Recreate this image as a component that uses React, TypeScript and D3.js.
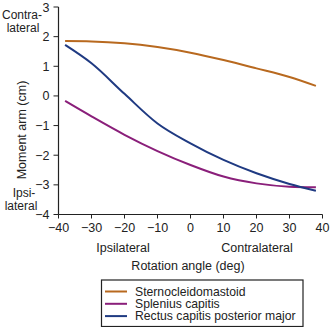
import React from "react";
import * as d3 from "d3";

const angles = [-38, -30, -20, -10, 0, 10, 20, 30, 38];
const sternocleidomastoid = [1.85, 1.84, 1.78, 1.65, 1.46, 1.21, 0.93, 0.64, 0.34];
const spleniusCapitis = [-0.17, -0.69, -1.31, -1.86, -2.33, -2.72, -2.95, -3.06, -3.08];
const rectusCapitis = [1.72, 1.1, 0.07, -0.93, -1.6, -2.16, -2.61, -2.97, -3.2];

const xTicks = [-40, -30, -20, -10, 0, 10, 20, 30, 40];
const yTicks = [3, 2, 1, 0, -1, -2, -3, -4];

const seriesNames = ["Sternocleidomastoid", "Splenius capitis", "Rectus capitis posterior major"];
const seriesColors = ["#b8691f", "#8a1f7a", "#1f3a82"];

export default function App() {
  const x = d3.scaleLinear().domain([-40, 40]).range([58.5, 322.5]);
  const y = d3.scaleLinear().domain([-4, 3]).range([214.5, 7]);
  const series = [sternocleidomastoid, spleniusCapitis, rectusCapitis];
  const line = d3
    .line<[number, number]>()
    .x((d) => x(d[0]))
    .y((d) => y(d[1]))
    .curve(d3.curveMonotoneX);
  const font = "'Liberation Sans', Arial, sans-serif";
  const fs = 12.5;
  const fmt = (t: number) => (t < 0 ? "\u2212" + Math.abs(t) : String(t));

  return (
    <svg
      width={330}
      height={327}
      style={{ position: "absolute", left: 0, top: 0, background: "#fff" }}
      fontFamily={font}
    >
      <rect x={0} y={0} width={330} height={327} fill="#fff" />
      {series.map((vals, i) => (
        <path
          key={i}
          d={line(angles.map((a, j) => [a, vals[j]] as [number, number])) || ""}
          fill="none"
          stroke={seriesColors[i]}
          strokeWidth={2}
        />
      ))}
      {/* axes */}
      <line x1={x(-40)} x2={x(40)} y1={y(-4)} y2={y(-4)} stroke="#222" strokeWidth={1.2} />
      <line x1={x(-40)} x2={x(-40)} y1={y(-4)} y2={y(3)} stroke="#222" strokeWidth={1.2} />
      {xTicks.map((t) => (
        <g key={"x" + t}>
          <line x1={x(t)} x2={x(t)} y1={y(-4)} y2={y(-4) + 4} stroke="#222" strokeWidth={1} />
          <text x={x(t)} y={y(-4) + 17} textAnchor="middle" fontSize={fs} fill="#222">
            {fmt(t)}
          </text>
        </g>
      ))}
      {yTicks.map((t) => (
        <g key={"y" + t}>
          <line x1={x(-40) - 5} x2={x(-40)} y1={y(t)} y2={y(t)} stroke="#222" strokeWidth={1} />
          <text x={x(-40) - 9} y={y(t) + 4.5} textAnchor="end" fontSize={fs} fill="#222">
            {fmt(t)}
          </text>
        </g>
      ))}
      <text x={22} y={19} textAnchor="middle" fontSize={12} fill="#222">Contra-</text>
      <text x={23} y={32} textAnchor="middle" fontSize={12} fill="#222">lateral</text>
      <text x={24} y={197} textAnchor="middle" fontSize={12} fill="#222">Ipsi-</text>
      <text x={21} y={210} textAnchor="middle" fontSize={12} fill="#222">lateral</text>
      <text
        transform={`translate(26,130) rotate(-90)`}
        textAnchor="middle"
        fontSize={fs}
        fill="#222"
      >
        Moment arm (cm)
      </text>
      <text x={123} y={252} textAnchor="middle" fontSize={fs} fill="#222">Ipsilateral</text>
      <text x={257} y={252} textAnchor="middle" fontSize={fs} fill="#222">Contralateral</text>
      <text x={188} y={270} textAnchor="middle" fontSize={fs} fill="#222">Rotation angle (deg)</text>
      {/* legend */}
      <rect x={101.5} y={280} width={201.5} height={46.5} fill="#fff" stroke="#222" strokeWidth={1.2} />
      {seriesNames.map((n, i) => (
        <g key={n}>
          <line x1={105} x2={127} y1={291.5 + i * 12.3} y2={291.5 + i * 12.3} stroke={seriesColors[i]} strokeWidth={2} />
          <text x={135} y={295.5 + i * 12.3} fontSize={12.2} fill="#222">{n}</text>
        </g>
      ))}
    </svg>
  );
}
